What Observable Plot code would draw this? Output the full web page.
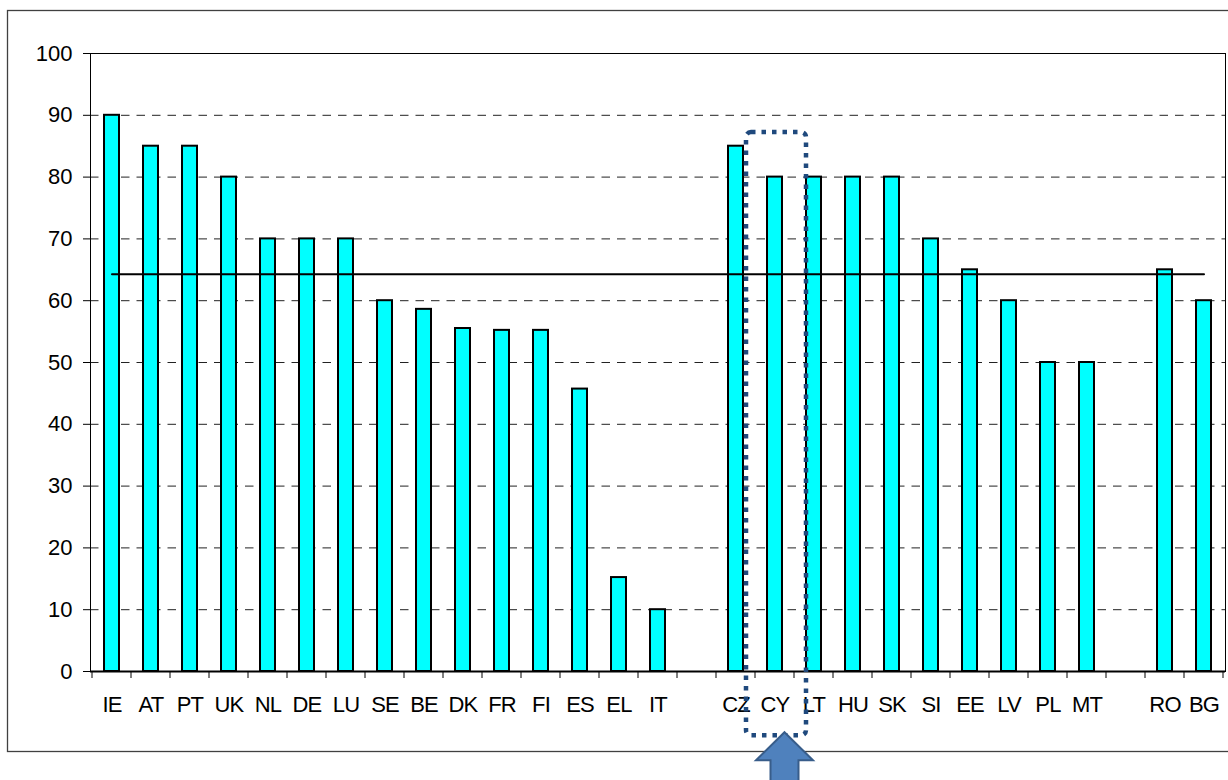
<!DOCTYPE html>
<html><head><meta charset="utf-8">
<script src="https://cdn.jsdelivr.net/npm/d3@7"></script>
<script src="https://cdn.jsdelivr.net/npm/@observablehq/plot@0.6"></script>
<style>
html,body{margin:0;padding:0;background:#fff;}
#chart svg{display:block;overflow:visible;}
</style></head><body><div id="chart"></div>
<script>
// ---- data ----
const eu15 = ["IE","AT","PT","UK","NL","DE","LU","SE","BE","DK","FR","FI","ES","EL","IT"];
const eu15Values = [90,85,85,80,70,70,70,60,58.6,55.5,55.2,55.2,45.7,15.2,10];
const nms = ["CZ","CY","LT","HU","SK","SI","EE","LV","PL","MT"];
const nmsValues = [85,80,80,80,80,70,65,60,50,50];
const candidates = ["RO","BG"];
const candidateValues = [65,60];
const averageValue = 64.3;
const yTicks = [0,10,20,30,40,50,60,70,80,90,100];
const gridValues = [10,20,30,40,50,60,70,80,90];
const highlighted = "CY";
const boxTopValue = 87.2;
const boxBottomValue = -10.4;

// ---- build tables ----
const gapA = " ", gapB = "  ";
const domain = [...eu15, gapA, ...nms, gapB, ...candidates];
const bars = [
  ...eu15.map((c,i)=>({country:c, value:eu15Values[i]})),
  ...nms.map((c,i)=>({country:c, value:nmsValues[i]})),
  ...candidates.map((c,i)=>({country:c, value:candidateValues[i]}))
];
const avgLine = domain.map(c=>({country:c, value:averageValue}));

const chart = Plot.plot({
  width:1228, height:780,
  marginLeft:90, marginRight:3, marginTop:53, marginBottom:109,
  style:{fontFamily:"'Liberation Sans', Arial, sans-serif", fontSize:"22px", color:"#000", background:"#fff", overflow:"visible"},
  x:{type:"band", domain, paddingInner:0.625, paddingOuter:0.3125, align:0.5, label:null},
  y:{domain:[0,100], label:null},
  marks:[
    Plot.ruleY(gridValues,{stroke:"#222", strokeDasharray:"8.5,7", strokeWidth:1}),
    Plot.barY(bars,{x:"country", y:"value", fill:"#00ffff", stroke:"#000", strokeWidth:2}),
    Plot.lineY(avgLine,{x:"country", y:"value", stroke:"#000", strokeWidth:2}),
    Plot.frame({stroke:"#000", strokeWidth:1}),
    Plot.ruleY([0],{stroke:"#000", strokeWidth:2}),
    Plot.axisY({ticks:yTicks, tickSize:7, tickPadding:11, fontSize:22, tickFormat:d=>String(d)}),
    Plot.axisX({tickSize:0, tickPadding:25, fontSize:22, tickFormat:d=>d.trim()})
  ]
});
document.getElementById("chart").appendChild(chart);

// ---- annotations using the chart's own scales ----
const svg = d3.select(chart);
const xs = chart.scale("x"), ys = chart.scale("y");
const step = xs.step, bw = xs.bandwidth;
const y0 = ys.apply(0);

// category-boundary tick marks below the x axis
const tickG = svg.append("g").attr("stroke","#000").attr("stroke-width",1);
domain.forEach((c,i)=>{
  const bx = xs.apply(c) + bw/2 - step/2;
  tickG.append("line").attr("x1",bx).attr("x2",bx).attr("y1",y0).attr("y2",y0+7);
});
const lastX = xs.apply(domain[domain.length-1]) + bw/2 + step/2;
tickG.append("line").attr("x1",lastX).attr("x2",lastX).attr("y1",y0).attr("y2",y0+7);

// outer chart frame
svg.insert("rect",":first-child").attr("x",7.5).attr("y",10.5).attr("width",1240).attr("height",741)
  .attr("fill","#fff").attr("stroke","#404040").attr("stroke-width",1.3);

// condensed x labels
svg.selectAll("[aria-label='x-axis tick label'] text").attr("letter-spacing","-0.8px");

// dotted highlight box around CY
const cx = xs.apply(highlighted) + bw/2;
const bTop = ys.apply(boxTopValue), bBot = ys.apply(boxBottomValue);
svg.append("rect").attr("x",cx-28.5).attr("y",bTop).attr("width",60).attr("height",bBot-bTop)
  .attr("rx",5).attr("fill","none").attr("stroke","#1f497d").attr("stroke-width",4.5)
  .attr("stroke-dasharray","4.5,6");

// block arrow pointing up at the box
const ax = cx + 10, tip = bBot - 3;
const pts = [[ax,tip],[ax+28.5,tip+28],[ax+14,tip+28],[ax+14,tip+60],[ax-14,tip+60],[ax-14,tip+28],[ax-28.5,tip+28]];
svg.append("polygon").attr("points",pts.map(p=>p.join(",")).join(" "))
  .attr("fill","#4f81bd").attr("stroke","#385d8a").attr("stroke-width",2);
</script></body></html>
